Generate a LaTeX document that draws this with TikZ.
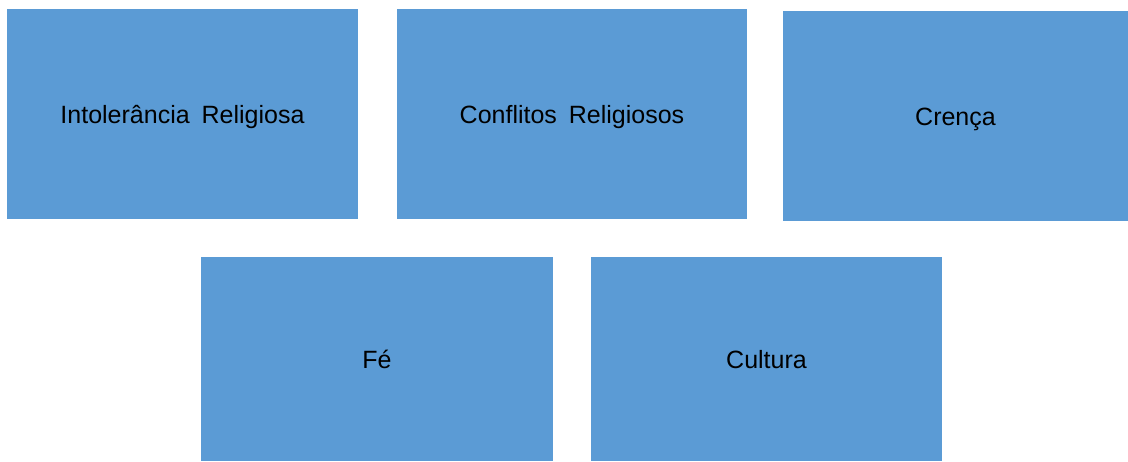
\documentclass[tikz,border=0pt]{standalone}
\usepackage{fontspec}
\setmainfont{Liberation Sans}
\usepackage{tikz}
\definecolor{boxblue}{RGB}{91,155,213}
\tikzset{
    % caixa azul
    bluebox/.style={
        fill=boxblue,
        inner sep=0pt,
        text=black,
        font=\fontsize{25}{30}\selectfont,
        text height=18pt,
        text depth=0pt,
        align=center
    }
}

\begin{document}
\begin{tikzpicture}[x=1pt,y=-1pt]
   \useasboundingbox (0,0) rectangle (1128,461);

   % linha de cima
   \node[bluebox, minimum width=351pt, minimum height=210pt] (intol) at (182.5,114) {Intolerância\hspace{5pt} Religiosa};
   \node[bluebox, minimum width=350pt, minimum height=210pt] (confl) at (572,114) {Conflitos\hspace{5pt} Religiosos};
   \node[bluebox, minimum width=345pt, minimum height=210pt] (crenca) at (955.5,116) {Crença};

   % linha de baixo
   \node[bluebox, minimum width=352pt, minimum height=204pt] (fe) at (377,359) {Fé};
   \node[bluebox, minimum width=351pt, minimum height=204pt] (cult) at (766.5,359) {Cultura};

\end{tikzpicture}
\end{document}
